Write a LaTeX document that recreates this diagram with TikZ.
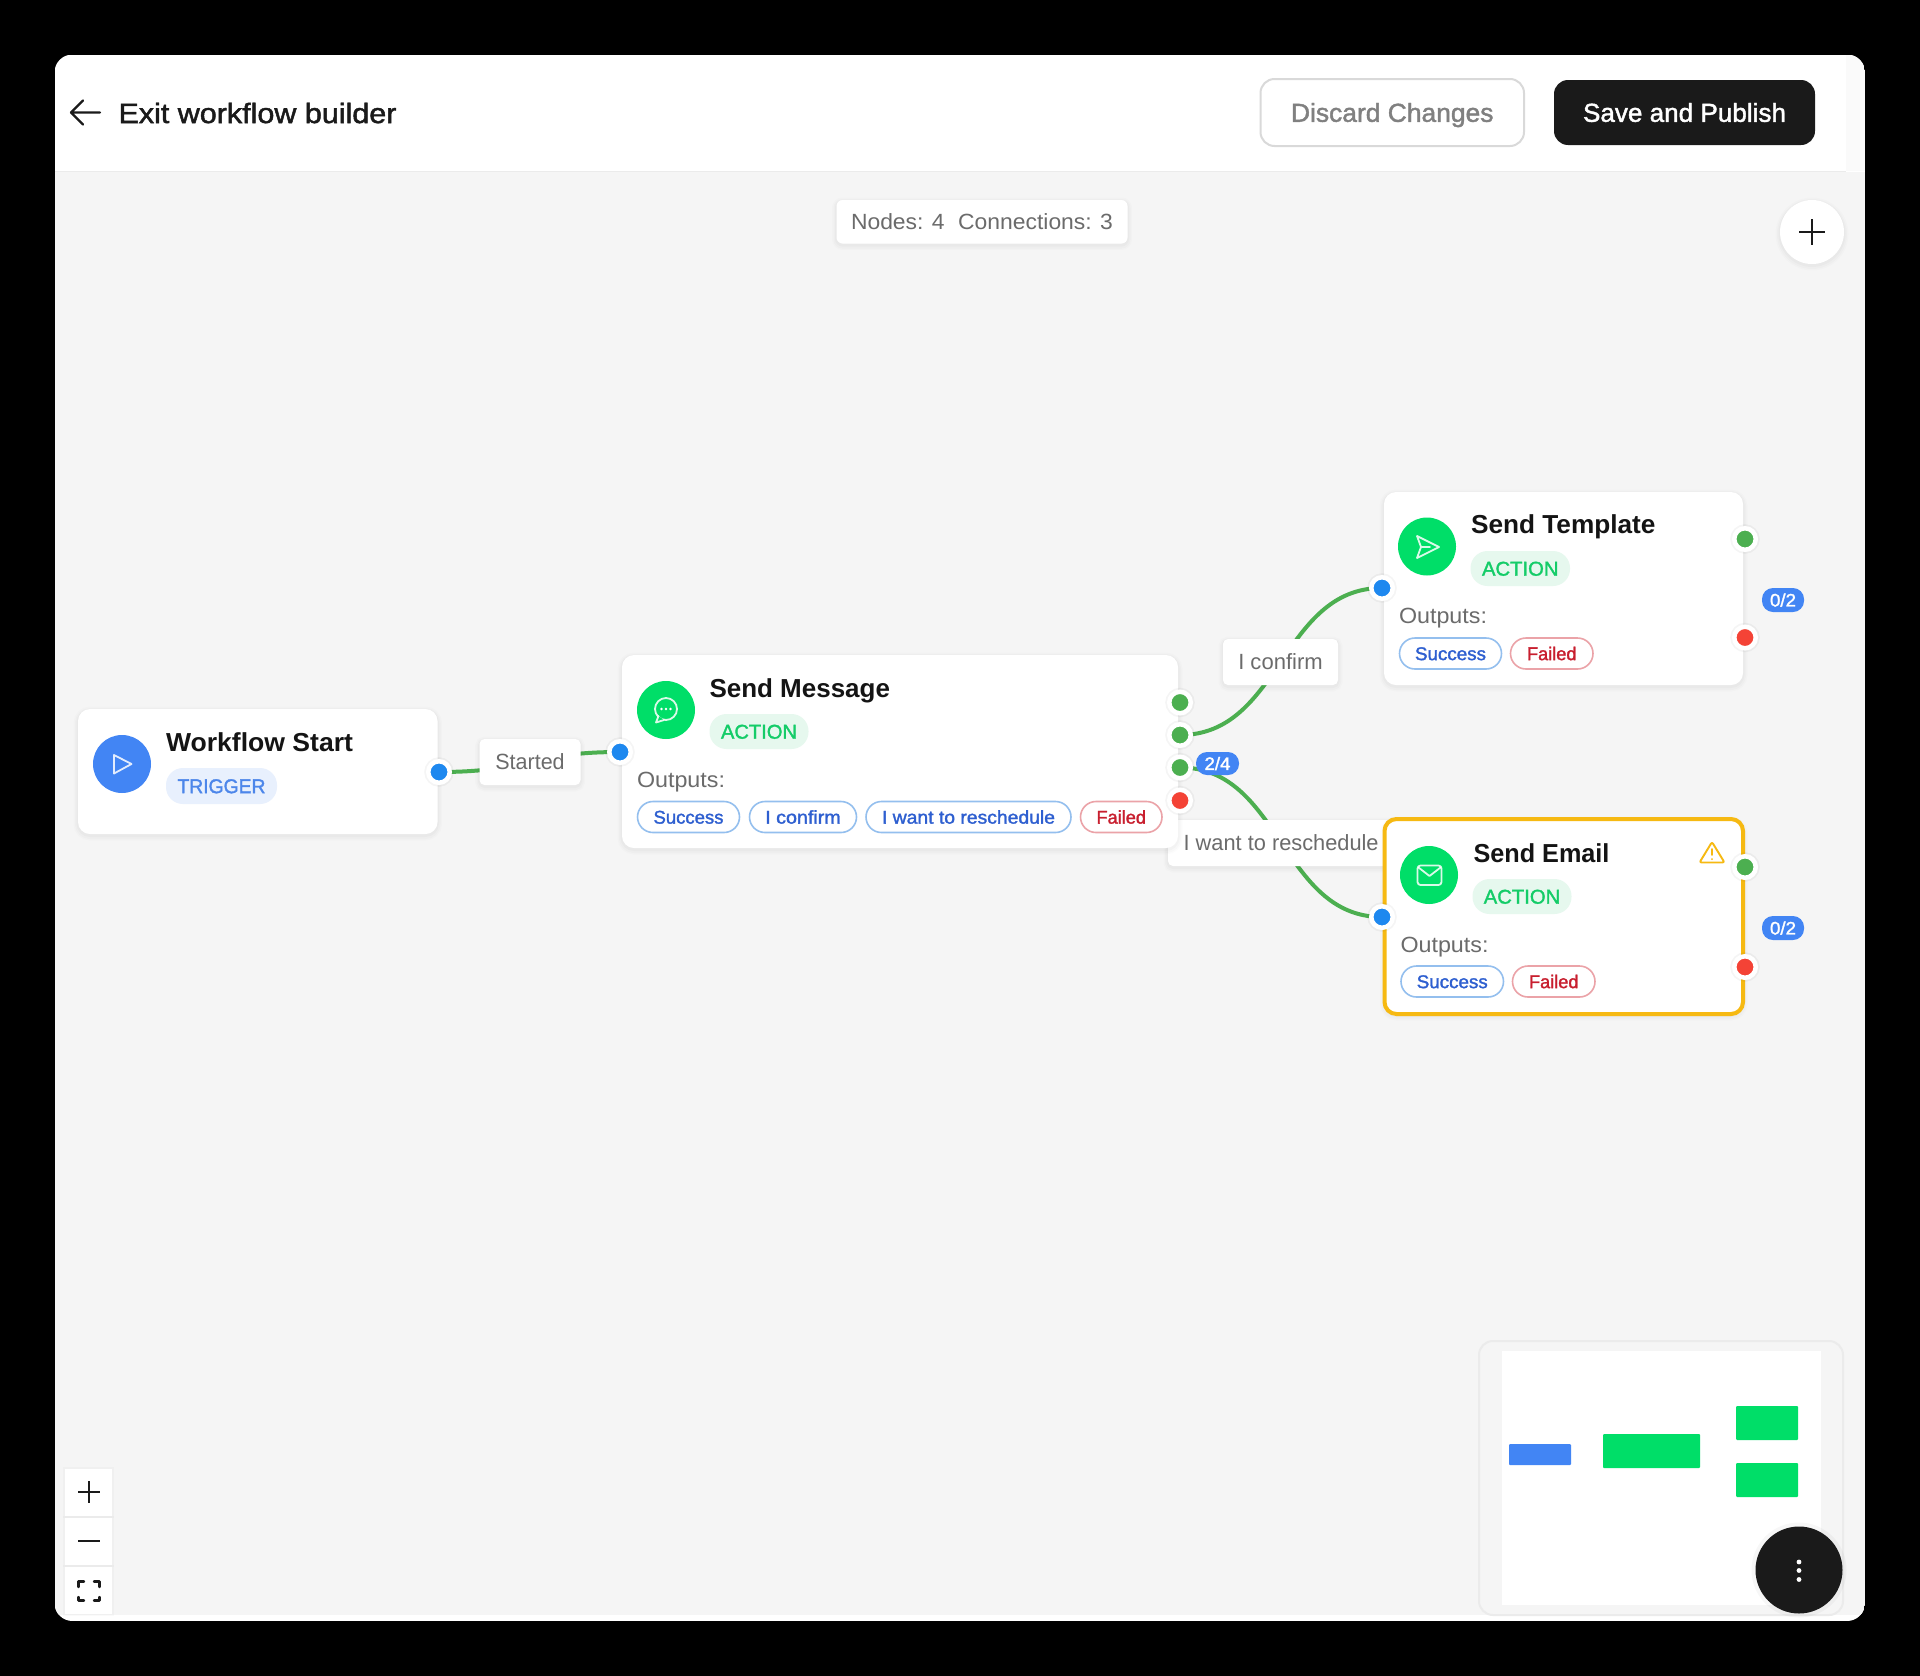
\documentclass[tikz,border=0pt]{standalone}
\usepackage{fontspec}
\usepackage{graphicx}
\setmainfont{Liberation Sans}
\newfontfamily\regf{Liberation Sans}
\newfontfamily\medf[FakeBold=1.6]{Liberation Sans}
\newfontfamily\bldf{Liberation Sans Bold}
\definecolor{pblack}{HTML}{1A1A1A}
\definecolor{canvasc}{HTML}{F5F5F5}
\definecolor{wirec}{HTML}{4CAF50}
\definecolor{portb}{HTML}{1E88EF}
\definecolor{portr}{HTML}{F44336}
\definecolor{bluec}{HTML}{4285F4}
\definecolor{greenc}{HTML}{00DE68}
\definecolor{trigbg}{HTML}{E8F0FD}
\definecolor{trigt}{HTML}{4C86EA}
\definecolor{actbg}{HTML}{E6F8EE}
\definecolor{actt}{HTML}{14CC68}
\definecolor{chipbb}{HTML}{94BFEE}
\definecolor{chipbt}{HTML}{2E5FD0}
\definecolor{chiprb}{HTML}{EBA3A8}
\definecolor{chiprt}{HTML}{C81E2E}
\definecolor{greytxt}{HTML}{6B6B6B}
\definecolor{warnc}{HTML}{F6B912}
\pgfdeclarelayer{bg}\pgfdeclarelayer{wire}\pgfdeclarelayer{lab}\pgfdeclarelayer{top}
\pgfsetlayers{bg,wire,lab,main,top}
% text fitted to a measured width; the box counts only its cap height
\newcommand\T[4]{\begingroup#1\fontsize{#2}{#2}\selectfont\setbox0\hbox{#4}%
\pgfmathsetmacro\myr{#3/\the\wd0}\ht0=\dimexpr#2pt*716/1000\relax\dp0=0pt\scalebox{\myr}[1]{\box0}\endgroup}
\newcommand\bx[7]{\node[#1,inner sep=0pt,outer sep=0pt,minimum width={(#5-#3)*1pt},minimum height={(#6-#4)*1pt}] (#2) at ({(#3+#5)/2},{(#4+#6)/2}) {#7};}
\tikzset{
  halo/.style={preaction={draw=black,draw opacity=.012,line width=9pt,transform canvas={yshift=-2pt}},
               preaction={draw=black,draw opacity=.015,line width=6pt,transform canvas={yshift=-2pt}},
               preaction={draw=black,draw opacity=.02,line width=3pt,transform canvas={yshift=-1.5pt}}},
  card/.style={rectangle,rounded corners=12pt,fill=white,halo},
  warncard/.style={rectangle,rounded corners=12pt,fill=white,draw=warnc,line width=4pt,halo},
  labelbox/.style={rectangle,rounded corners=5pt,fill=white,halo,text=greytxt},
  tx/.style={inner sep=0pt,outer sep=0pt},
  roundicon/.style={circle,inner sep=0pt,outer sep=0pt,minimum size=58pt},
  badge/.style={rectangle,rounded corners=17pt},
  chipb/.style={rectangle,rounded corners=15.5pt,fill=white,draw=chipbb,line width=1.6pt,text=chipbt},
  chipr/.style={rectangle,rounded corners=15.5pt,fill=white,draw=chiprb,line width=1.6pt,text=chiprt},
  counter/.style={rectangle,rounded corners=11pt,fill=bluec,text=white},
  portbase/.style={circle,draw=white,line width=4.5pt,minimum size=21.5pt,inner sep=0pt,outer sep=0pt,
     preaction={draw=black,draw opacity=.04,line width=8pt}},
  inport/.style={portbase,fill=portb},
  okport/.style={portbase,fill=wirec},
  badport/.style={portbase,fill=portr},
  connector/.style={draw=wirec,line width=4pt},
  ic/.style={draw=white,draw opacity=.85,line width=1.8pt,line join=round,line cap=round},
  blackicon/.style={draw=pblack,line width=2.8pt,line cap=butt},
  zoomcell/.style={rectangle,fill=white,preaction={draw=black,draw opacity=.018,line width=4pt}},
}
\begin{document}
\begin{tikzpicture}[x=1pt,y=-1pt]
\useasboundingbox (0,0) rectangle (1920,1676);
\begin{pgfonlayer}{bg}
  \fill[black] (0,0) rectangle (1920,1676);
  \begin{scope}
    \clip[rounded corners=18pt] (54.5,54.5) rectangle (1865,1621);
    \fill[white] (54.5,54.5) rectangle (1865,1621);
    \fill[canvasc] (55,172) rectangle (1865,1615);
    \fill[black!2] (1846,54.5) rectangle (1865,171);
    \draw[black!8,line width=1.2pt] (55,171.5) -- (1846,171.5);
  \end{scope}
\end{pgfonlayer}

% header
\coordinate (arrowtail) at (100,112.5);
\coordinate (arrowtip) at (71,112.5);
\coordinate (arrowup) at (83,100.5);
\coordinate (arrowdown) at (83,124.5);
\draw[draw=pblack,line width=2.2pt,line cap=round,line join=round] (arrowtail) -- (arrowtip) (arrowup) -- (arrowtip) -- (arrowdown);
\node[tx,anchor=west,text=pblack] (title) at (118.5,113) {\T{\medf}{28}{278}{Exit workflow builder}};
\bx{rectangle,rounded corners=14pt,fill=white,draw=black!15,line width=2pt,text=black!50}{discard}{1260.5}{79}{1524}{146}{\T{\medf}{26}{202.5}{Discard Changes}}
\bx{rectangle,rounded corners=14pt,fill=pblack,text=white}{save}{1554}{80}{1815}{145}{\T{\medf}{26}{203}{Save and Publish}}

% counters and add button
\bx{rectangle,rounded corners=6pt,fill=white,halo,text=greytxt}{stats}{836.5}{200}{1127.5}{243.5}{\T{\regf}{22}{262}{Nodes: 4\hspace{13pt}Connections: 3}}
\node[circle,fill=white,halo,minimum size=64pt,inner sep=0pt] (add) at (1812,232) {};
\draw[draw=pblack,line width=2.2pt] (1799,232) -- (1825,232) (1812,219) -- (1812,245);

% Workflow Start
\bx{card}{start}{78}{709}{437.5}{834}{}
\node[roundicon,fill=bluec] (starticon) at (122,764) {};
\draw[ic] (114,755) -- (131.5,764) -- (114,773.5) -- cycle;
\node[tx,anchor=west,text=black!92] (starttitle) at (166,742) {\T{\bldf}{26}{187}{Workflow Start}};
\bx{badge,fill=trigbg,text=trigt}{trigger}{166}{768}{277}{804}{\T{\medf}{20}{88}{TRIGGER}}
\node[inport] (startout) at (439,772) {};

% Send Message
\bx{card}{message}{622}{655}{1178}{848}{}
\node[roundicon,fill=greenc] (messageicon) at (666,710) {};
\draw[ic] (666,709) circle[radius=11];
\draw[ic,fill=greenc] (658.5,716) -- (656,722.5) -- (664,720);
\fill[white] (661.5,709) circle[radius=1.3] (666,709) circle[radius=1.3] (670.5,709) circle[radius=1.3];
\node[tx,anchor=west,text=black!92] (messagetitle) at (709.5,688) {\T{\bldf}{26}{180.5}{Send Message}};
\bx{badge,fill=actbg,text=actt}{messageaction}{709.5}{714}{808.5}{749}{\T{\medf}{20}{76}{ACTION}}
\node[tx,anchor=west,text=greytxt] (messageoutputs) at (637,780) {\T{\regf}{22}{88}{Outputs:}};
\bx{chipb}{msgsuccess}{637.5}{801.5}{739.5}{832.5}{\T{\medf}{18.5}{70}{Success}}
\bx{chipb}{msgconfirm}{749.5}{801.5}{856.5}{832.5}{\T{\medf}{18.5}{75.5}{I confirm}}
\bx{chipb}{msgresched}{866}{801.5}{1071}{832.5}{\T{\medf}{18.5}{173}{I want to reschedule}}
\bx{chipr}{msgfailed}{1080.5}{801.5}{1162}{832.5}{\T{\medf}{18.5}{49.5}{Failed}}
\node[inport] (messagein) at (620,752) {};
\node[okport] (msgout1) at (1180,702.5) {};
\node[okport] (msgout2) at (1180,735) {};
\node[okport] (msgout3) at (1180,767.5) {};
\node[badport] (msgout4) at (1180,800.5) {};

% Send Template
\bx{card}{template}{1384}{492}{1743}{685}{}
\node[roundicon,fill=greenc] (templateicon) at (1427,546.5) {};
\draw[ic] (1417,536) -- (1439,547) -- (1417,558) -- (1421,547) -- cycle (1421,547) -- (1430,547);
\node[tx,anchor=west,text=black!92] (templatetitle) at (1471,524.5) {\T{\bldf}{26}{184.5}{Send Template}};
\bx{badge,fill=actbg,text=actt}{templateaction}{1470.5}{551}{1570}{586}{\T{\medf}{20}{76.5}{ACTION}}
\node[tx,anchor=west,text=greytxt] (templateoutputs) at (1399,616) {\T{\regf}{22}{88}{Outputs:}};
\bx{chipb}{tplsuccess}{1399.5}{638}{1501.5}{669}{\T{\medf}{18.5}{71}{Success}}
\bx{chipr}{tplfailed}{1510.5}{638}{1593}{669}{\T{\medf}{18.5}{49.5}{Failed}}
\node[inport] (templatein) at (1382,588) {};
\node[okport] (tplout1) at (1745,539) {};
\node[badport] (tplout2) at (1745,637.5) {};

% Send Email
\bx{warncard}{email}{1384.5}{819}{1743}{1014}{}
\node[roundicon,fill=greenc] (emailicon) at (1429,875) {};
\draw[ic,rounded corners=3pt] (1417.5,865.5) rectangle (1441.5,885);
\draw[ic] (1418.5,867.5) -- (1429.5,876) -- (1440.5,867.5);
\node[tx,anchor=west,text=black!92] (emailtitle) at (1473.5,853) {\T{\bldf}{26}{136}{Send Email}};
\bx{badge,fill=actbg,text=actt}{emailaction}{1472.5}{879}{1571.5}{914}{\T{\medf}{20}{76.5}{ACTION}}
\node[tx,anchor=west,text=greytxt] (emailoutputs) at (1400.5,944.5) {\T{\regf}{22}{88}{Outputs:}};
\bx{chipb}{emsuccess}{1401}{966}{1503.5}{997}{\T{\medf}{18.5}{71}{Success}}
\bx{chipr}{emfailed}{1512.5}{966}{1595}{997}{\T{\medf}{18.5}{49.5}{Failed}}
\draw[draw=warnc,line width=1.9pt,line join=round,rounded corners=2pt] (1712,842) -- (1724.5,862.5) -- (1699.5,862.5) -- cycle;
\draw[draw=warnc,line width=1.7pt,line cap=round] (1712,849) -- (1712,855) (1712,859) -- (1712,859.2);
\node[inport] (emailin) at (1382,917) {};
\node[okport] (emout1) at (1745,867) {};
\node[badport] (emout2) at (1745,967) {};

% connectors
\begin{pgfonlayer}{wire}
  \draw[connector] (startout.center) .. controls +(90,0) and +(-90,0) .. (messagein.center);
  \draw[connector] (msgout2.center) .. controls +(101,0) and +(-101,0) .. (templatein.center);
  \draw[connector] (msgout3.center) .. controls +(101,0) and +(-101,0) .. (emailin.center);
\end{pgfonlayer}
\begin{pgfonlayer}{lab}
  \bx{labelbox}{lblstarted}{479.5}{739}{580.5}{785}{\T{\regf}{22}{69.3}{Started}}
  \bx{labelbox}{lblconfirm}{1223}{639}{1338}{685}{\T{\regf}{22}{84.5}{I confirm}}
  \bx{labelbox}{lblresched}{1168}{820}{1395}{866}{}
\end{pgfonlayer}
\begin{pgfonlayer}{top}
  \node[tx,anchor=west,text=greytxt] (lblreschedtext) at (1183.6,843) {\T{\regf}{22}{195}{I want to reschedule}};
  \bx{counter}{count24}{1196}{752}{1239}{775}{\T{\medf}{18}{26}{2/4}}
  \bx{counter}{count02a}{1762}{588}{1804}{612}{\T{\medf}{18}{26}{0/2}}
  \bx{counter}{count02b}{1762}{916}{1804}{940}{\T{\medf}{18}{26}{0/2}}
\end{pgfonlayer}

% zoom controls
\bx{zoomcell}{zoomin}{65}{1469}{112}{1516}{}
\bx{zoomcell}{zoomout}{65}{1518}{112}{1565}{}
\bx{zoomcell}{zoomfit}{65}{1567}{112}{1614}{}
\draw[blackicon] (78,1492) -- (100,1492) (89,1481) -- (89,1503);
\draw[blackicon] (78,1541) -- (100,1541);
\draw[draw=pblack,line width=2.4pt,line join=round,line cap=round]
  (78.5,1587) -- (78.5,1581.5) -- (84,1581.5) (94,1581.5) -- (99.5,1581.5) -- (99.5,1587)
  (99.5,1597) -- (99.5,1600.5) -- (94,1600.5) (84,1600.5) -- (78.5,1600.5) -- (78.5,1597);

% minimap
\draw[black!8,line width=2pt,rounded corners=14pt] (1479,1341) rectangle (1843,1615);
\fill[white] (1502,1351) rectangle (1821,1605);
\fill[bluec,rounded corners=1pt] (1509,1444) rectangle (1571,1465);
\fill[greenc,rounded corners=1pt] (1603,1434) rectangle (1700,1468);
\fill[greenc,rounded corners=1pt] (1736,1406) rectangle (1798,1440);
\fill[greenc,rounded corners=1pt] (1736,1463) rectangle (1798,1497);
\node[circle,fill=pblack,minimum size=87pt,inner sep=0pt,preaction={draw=black,draw opacity=.03,line width=8pt}] (menu) at (1799,1570) {};
\fill[white] (1799,1562) circle[radius=2.4] (1799,1570.5) circle[radius=2.4] (1799,1579.5) circle[radius=2.4];
\end{tikzpicture}
\end{document}
